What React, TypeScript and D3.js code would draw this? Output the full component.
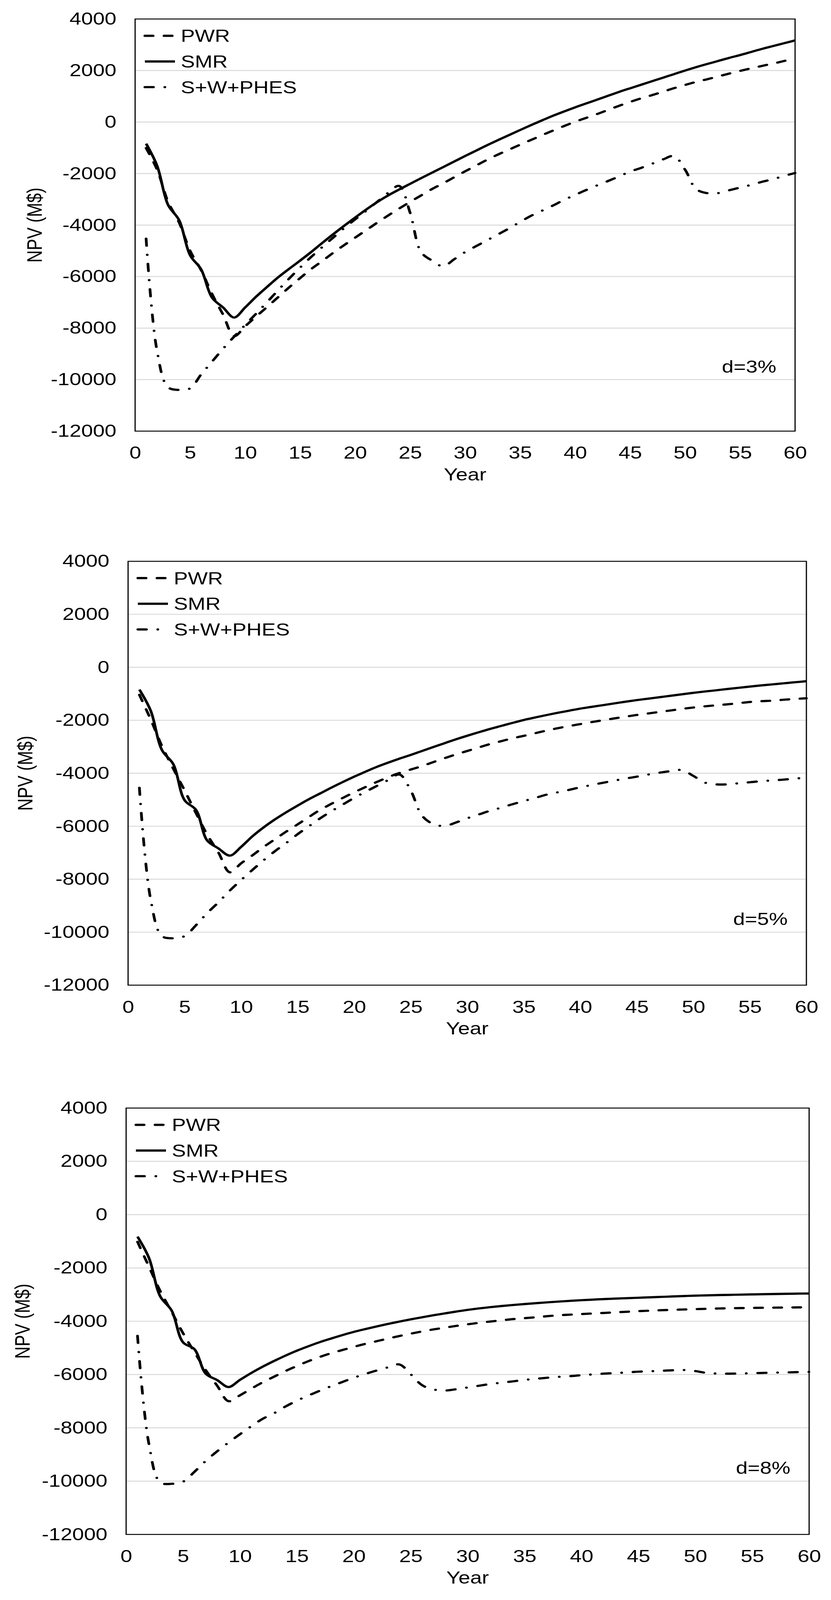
import React, { useEffect, useRef, useState } from "react";
import * as d3 from "d3";

// x values shared by every series
const years = [
  1, 2, 3, 4, 5, 6, 7, 8, 9, 10, 11, 12, 13, 14, 15, 16, 17, 18, 19, 20,
  21, 22, 23, 24, 25, 26, 27, 28, 29, 30, 31, 32, 33, 34, 35, 36, 37, 38, 39, 40,
  41, 42, 43, 44, 45, 46, 47, 48, 49, 50, 51, 52, 53, 54, 55, 56, 57, 58, 59, 60,
];

const xTicks = [0, 5, 10, 15, 20, 25, 30, 35, 40, 45, 50, 55, 60];
const yTicks = [4000, 2000, 0, -2000, -4000, -6000, -8000, -10000, -12000];

const seriesNames = ["PWR", "SMR", "S+W+PHES"];

// d = 3%
const pwr3 = [
  -1010, -1850, -3100, -3900, -5000, -5750, -6680, -7480, -8310, -7930,
  -7550, -7180, -6800, -6420, -6060, -5710, -5400, -5080, -4780, -4490,
  -4200, -3910, -3630, -3360, -3100, -2850, -2600, -2380, -2145, -1915,
  -1690, -1465, -1260, -1070, -880, -695, -510, -330, -155, 10,
  160, 310, 470, 630, 780, 920, 1045, 1180, 1315, 1440,
  1560, 1660, 1770, 1880, 1985, 2085, 2180, 2270, 2370, 2480,
];
const smr3 = [
  -840, -1700, -3220, -3810, -5170, -5720, -6820, -7200, -7590, -7200,
  -6780, -6400, -6030, -5700, -5380, -5050, -4700, -4360, -4030, -3710,
  -3400, -3110, -2850, -2620, -2400, -2180, -1965, -1750, -1535, -1320,
  -1110, -900, -700, -505, -310, -120, 65, 245, 410, 570,
  720, 868, 1020, 1170, 1310, 1447, 1585, 1723, 1860, 2000,
  2130, 2252, 2370, 2490, 2600, 2720, 2840, 2950, 3060, 3170,
];
const swp3 = [
  -4530, -8900, -10300, -10400, -10340, -9800, -9300, -8800, -8330, -7880,
  -7440, -6990, -6530, -6080, -5650, -5240, -4860, -4490, -4120, -3780,
  -3450, -3100, -2750, -2480, -3520, -5050, -5380, -5600, -5330, -5050,
  -4820, -4590, -4360, -4130, -3880, -3640, -3440, -3240, -3020, -2830,
  -2640, -2460, -2290, -2110, -1925, -1780, -1620, -1450, -1320, -1850,
  -2600, -2760, -2760, -2650, -2545, -2440, -2320, -2220, -2090, -1980,
];

// d = 5%
const pwr5 = [
  -1040, -1970, -2980, -3830, -4650, -5500, -6320, -7000, -7740, -7400,
  -7100, -6780, -6490, -6200, -5930, -5650, -5380, -5150, -4930, -4720,
  -4520, -4330, -4150, -3990, -3860, -3730, -3580, -3430, -3290, -3160,
  -3030, -2900, -2790, -2680, -2590, -2490, -2390, -2300, -2220, -2145,
  -2070, -2000, -1930, -1865, -1800, -1745, -1685, -1630, -1570, -1520,
  -1475, -1435, -1400, -1355, -1310, -1280, -1260, -1225, -1195, -1170,
];
const smr5 = [
  -840, -1640, -3130, -3660, -5020, -5380, -6540, -6840, -7110, -6780,
  -6380, -6040, -5740, -5470, -5220, -4980, -4760, -4540, -4330, -4130,
  -3940, -3760, -3600, -3450, -3310, -3160, -3010, -2865, -2720, -2585,
  -2455, -2330, -2215, -2100, -1990, -1895, -1805, -1720, -1640, -1560,
  -1495, -1430, -1365, -1300, -1240, -1185, -1130, -1075, -1020, -965,
  -915, -870, -820, -775, -728, -685, -645, -605, -565, -526,
];
const swp5 = [
  -4550, -8770, -10150, -10230, -10150, -9740, -9280, -8870, -8430, -8030,
  -7650, -7280, -6940, -6630, -6300, -6000, -5700, -5430, -5180, -4930,
  -4700, -4480, -4260, -4050, -4650, -5600, -5920, -5990, -5860, -5700,
  -5560, -5420, -5300, -5170, -5050, -4935, -4810, -4720, -4630, -4530,
  -4445, -4360, -4280, -4200, -4130, -4050, -3980, -3920, -3880, -4100,
  -4350, -4420, -4420, -4380, -4340, -4300, -4270, -4240, -4200, -4170,
];

// d = 8%
const pwr8 = [
  -1020, -1950, -2870, -3650, -4450, -5160, -5840, -6420, -7000, -6780,
  -6530, -6290, -6080, -5870, -5680, -5500, -5340, -5200, -5080, -4960,
  -4850, -4750, -4650, -4555, -4465, -4382, -4307, -4240, -4175, -4115,
  -4060, -4010, -3965, -3920, -3885, -3850, -3810, -3775, -3752, -3730,
  -3708, -3688, -3665, -3645, -3622, -3603, -3586, -3572, -3558, -3545,
  -3533, -3522, -3513, -3506, -3500, -3494, -3489, -3485, -3480, -3475,
];
const smr8 = [
  -825, -1620, -3070, -3600, -4790, -5050, -5970, -6210, -6470, -6200,
  -5940, -5705, -5490, -5290, -5105, -4940, -4786, -4650, -4520, -4400,
  -4295, -4195, -4101, -4013, -3930, -3850, -3775, -3705, -3637, -3573,
  -3518, -3470, -3428, -3390, -3355, -3322, -3291, -3262, -3235, -3210,
  -3188, -3168, -3150, -3134, -3118, -3102, -3086, -3070, -3054, -3039,
  -3029, -3019, -3010, -3001, -2992, -2985, -2978, -2971, -2964, -2958,
];
const swp8 = [
  -4550, -8600, -10050, -10100, -10020, -9650, -9240, -8880, -8550, -8240,
  -7940, -7660, -7450, -7200, -6980, -6790, -6610, -6440, -6280, -6120,
  -5980, -5850, -5730, -5620, -5990, -6400, -6560, -6600, -6550, -6485,
  -6420, -6355, -6305, -6255, -6200, -6160, -6120, -6085, -6060, -6025,
  -5995, -5965, -5945, -5920, -5893, -5877, -5860, -5840, -5830, -5870,
  -5940, -5965, -5967, -5960, -5950, -5938, -5928, -5920, -5910, -5900,
];

const rates = ["d=3%", "d=5%", "d=8%"];

const FONT = "'Liberation Sans', Arial, sans-serif";
const FONT_SIZE = "54px";

// full figure size; the drawing is fitted to the visible window height
const WIDTH = 2128;
const HEIGHT = 5051;

// line styles: PWR dashed, SMR solid, S+W+PHES dash-dot
const dashes = ["21,28", null, "22,29,0.1,29"];

const panels = [
  { rate: rates[0], series: [pwr3, smr3, swp3], left: 346, right: 2036, top: 60, bottom: 1361, titleOffset: 258 },
  { rate: rates[1], series: [pwr5, smr5, swp5], left: 328, right: 2065, top: 1772, bottom: 3110, titleOffset: 264 },
  { rate: rates[2], series: [pwr8, smr8, swp8], left: 323, right: 2072, top: 3498, bottom: 4844, titleOffset: 266 },
];

function NpvPanels() {
  const svgRef = useRef<SVGSVGElement>(null);
  const [shownHeight] = useState(() => Math.min(HEIGHT, window.innerHeight || HEIGHT));

  useEffect(() => {
    if (!svgRef.current) return;
    document.body.style.margin = "0";

    const svg = d3.select(svgRef.current);
    svg.selectAll("*").remove();

    panels.forEach((p) => {
      const x = d3.scaleLinear().domain([0, 60]).range([p.left, p.right]);
      const y = d3.scaleLinear().domain([-12000, 4000]).range([p.bottom, p.top]);
      const g = svg.append("g");

      // horizontal gridlines
      g.selectAll("line.grid")
        .data(yTicks.filter((v) => v > -12000 && v < 4000))
        .join("line")
        .attr("class", "grid")
        .attr("x1", p.left)
        .attr("x2", p.right)
        .attr("y1", (d) => y(d))
        .attr("y2", (d) => y(d))
        .attr("stroke", "#d9d9d9")
        .attr("stroke-width", 3);

      // series
      const line = d3
        .line<number>()
        .x((_, i) => x(years[i]))
        .y((d) => y(d))
        .curve(d3.curveCatmullRom.alpha(0.5));

      p.series.forEach((values, k) => {
        g.append("path")
          .datum(values)
          .attr("fill", "none")
          .attr("stroke", "#000")
          .attr("stroke-width", 7)
          .attr("stroke-linecap", dashes[k] ? "round" : "butt")
          .attr("stroke-linejoin", "round")
          .attr("stroke-dasharray", dashes[k])
          .attr("d", line);
      });

      // plot border
      g.append("rect")
        .attr("x", p.left)
        .attr("y", p.top)
        .attr("width", p.right - p.left)
        .attr("height", p.bottom - p.top)
        .attr("fill", "none")
        .attr("stroke", "#000")
        .attr("stroke-width", 3);

      // axes, labels only
      const yAxis = g
        .append("g")
        .attr("transform", `translate(${p.left},0)`)
        .call(d3.axisLeft(y).tickValues(yTicks).tickSize(0).tickPadding(48).tickFormat((d) => String(d)));
      yAxis.select(".domain").remove();
      yAxis.selectAll("text")
        .attr("fill", "#000")
        .style("font-family", FONT)
        .style("font-size", FONT_SIZE);

      const xAxis = g
        .append("g")
        .attr("transform", `translate(0,${p.bottom})`)
        .call(d3.axisBottom(x).tickValues(xTicks).tickSize(0).tickPadding(49).tickFormat((d) => String(d)));
      xAxis.select(".domain").remove();
      xAxis.selectAll("text")
        .attr("fill", "#000")
        .style("font-family", FONT)
        .style("font-size", FONT_SIZE);

      // axis titles
      g.append("text")
        .attr("x", (p.left + p.right) / 2)
        .attr("y", p.bottom + 136)
        .attr("text-anchor", "middle")
        .attr("dominant-baseline", "central")
        .style("font-family", FONT)
        .style("font-size", FONT_SIZE)
        .text("Year");

      g.append("text")
        .attr("transform", `translate(${p.left - p.titleOffset},${(p.top + p.bottom) / 2}) rotate(-90)`)
        .attr("text-anchor", "middle")
        .attr("dominant-baseline", "central")
        .style("font-family", FONT)
        .style("font-size", FONT_SIZE)
        .text("NPV (M$)");

      // discount rate note
      g.append("text")
        .attr("x", p.right - 48)
        .attr("y", y(-9500))
        .attr("text-anchor", "end")
        .attr("dominant-baseline", "central")
        .style("font-family", FONT)
        .style("font-size", FONT_SIZE)
        .text(p.rate);

      // legend
      const legend = g.append("g").attr("transform", `translate(${p.left},${p.top})`);
      seriesNames.forEach((name, k) => {
        const rowY = 53 + k * 81;
        legend.append("line")
          .attr("x1", 25)
          .attr("x2", k === 2 ? 80 : 102)
          .attr("y1", rowY)
          .attr("y2", rowY)
          .attr("stroke", "#000")
          .attr("stroke-width", 7)
          .attr("stroke-linecap", dashes[k] ? "round" : "butt")
          .attr("stroke-dasharray", dashes[k]);
        legend.append("text")
          .attr("x", 117)
          .attr("y", rowY)
          .attr("dominant-baseline", "central")
          .style("font-family", FONT)
          .style("font-size", FONT_SIZE)
          .text(name);
      });
    });
  }, []);

  return (
    <svg
      ref={svgRef}
      width={WIDTH}
      height={shownHeight}
      viewBox={`0 0 ${WIDTH} ${HEIGHT}`}
      preserveAspectRatio="none"
      style={{ display: "block", background: "#fff" }}
    />
  );
}

export default function App() {
  return <NpvPanels />;
}
